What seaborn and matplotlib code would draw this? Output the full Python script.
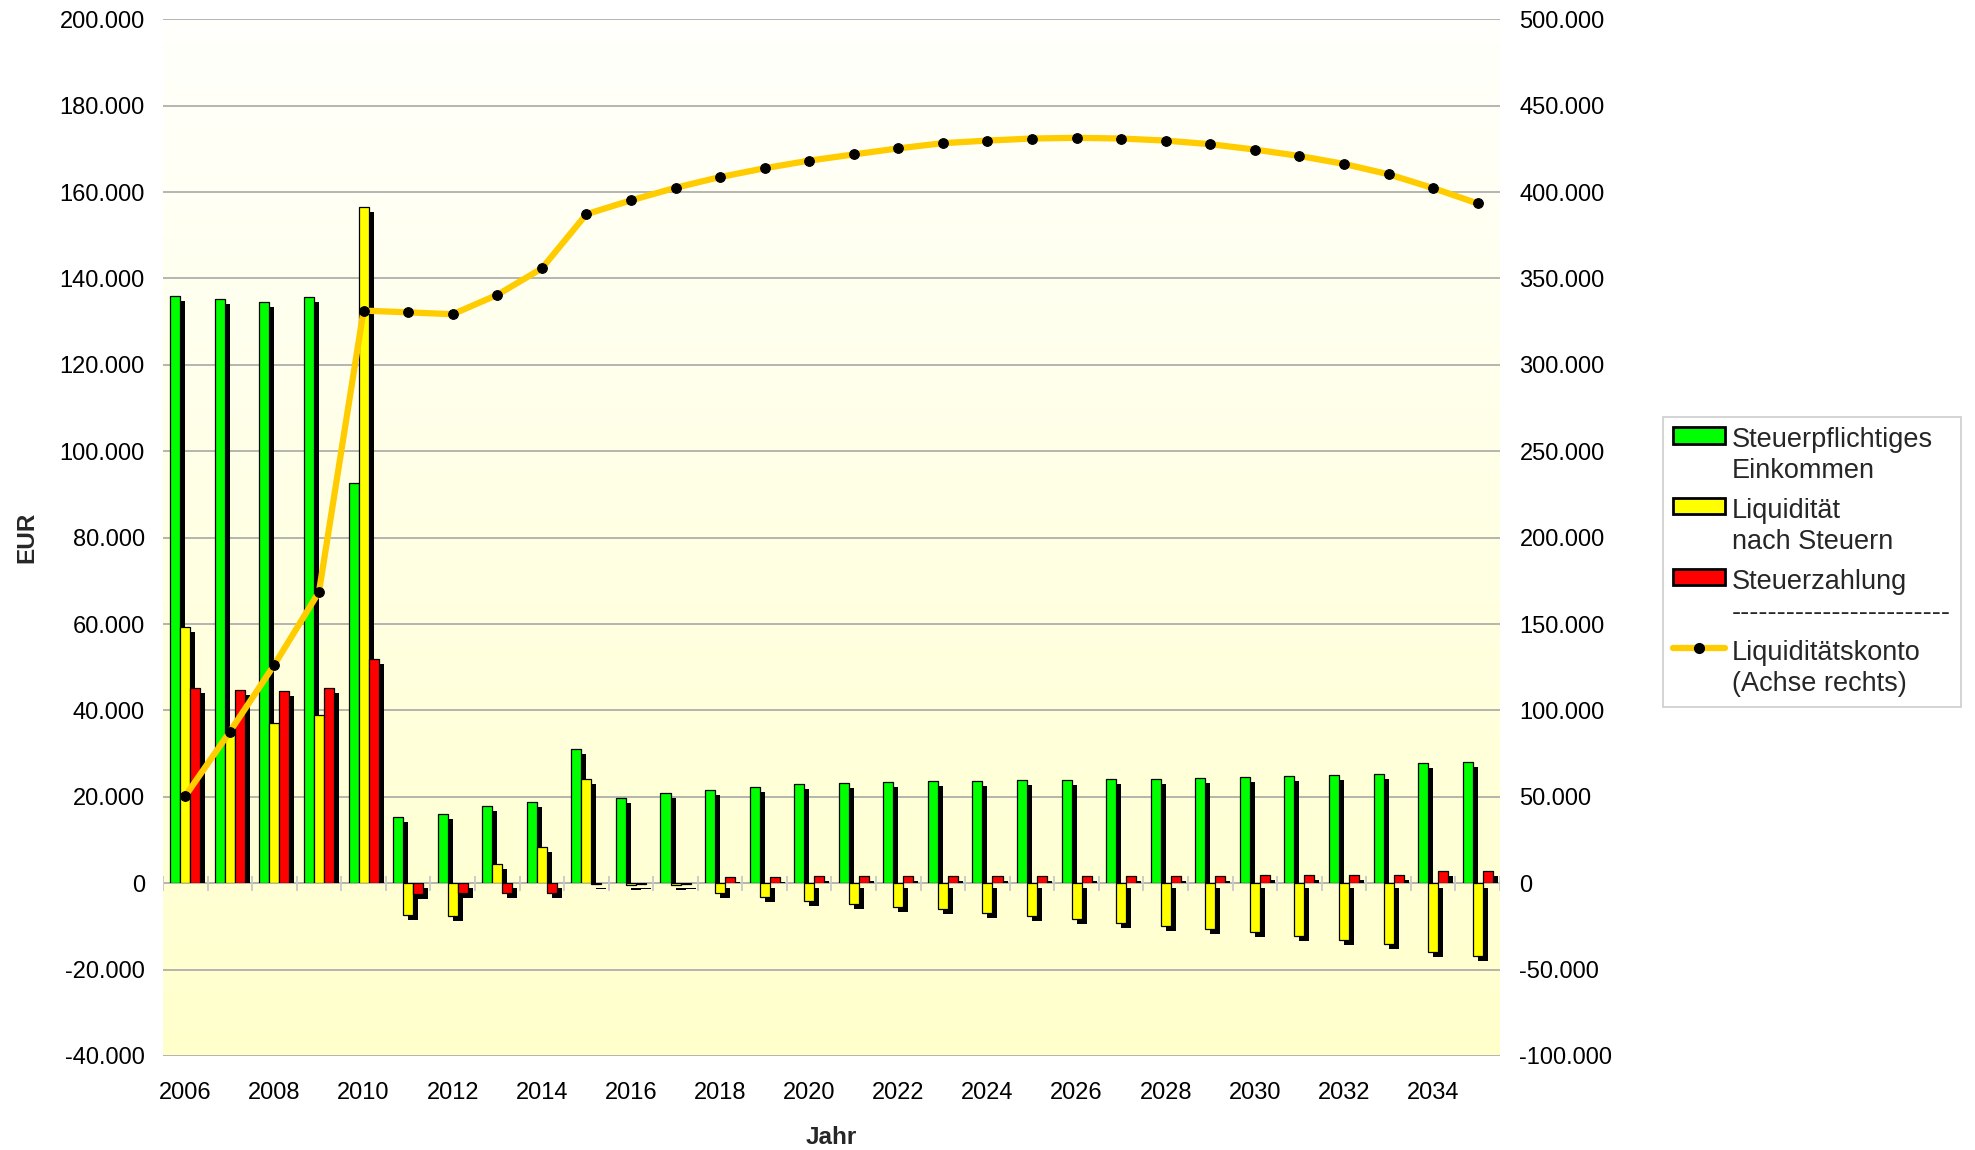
import numpy as np
import pandas as pd
import matplotlib
matplotlib.use("Agg")
import matplotlib.pyplot as plt
import matplotlib.patheffects as pe
from matplotlib.patches import Patch
from matplotlib.lines import Line2D
from matplotlib.ticker import FuncFormatter, MultipleLocator
from matplotlib.transforms import Bbox, TransformedBbox
import seaborn as sns

# ---------------- data ----------------
years = list(range(2006, 2036))
einkommen = [136000, 135300, 134600, 135800, 92600, 15400, 16000, 17900, 18700, 31000,
             19800, 20800, 21500, 22200, 23000, 23300, 23500, 23600, 23700, 23800,
             23900, 24100, 24200, 24400, 24500, 24900, 25000, 25200, 27800, 28000]
liquiditaet = [59200, 35000, 37100, 39000, 156500, -7300, -7500, 4400, 8400, 24100,
               -500, -500, -2300, -3100, -4100, -4800, -5400, -6000, -6900, -7700,
               -8300, -9200, -9900, -10700, -11400, -12300, -13200, -14000, -16000, -16800]
steuer = [45300, 44800, 44600, 45300, 52000, -2600, -2300, -2200, -2200, -150,
          -150, -200, 1400, 1500, 1600, 1600, 1600, 1700, 1600, 1600,
          1600, 1700, 1700, 1700, 1850, 1850, 1850, 1850, 2900, 2900]
konto = [50500, 87700, 126500, 168600, 331400, 330400, 329300, 340500, 355800, 387200,
         395200, 402500, 408700, 413800, 418200, 421800, 425300, 428300, 429800, 431000,
         431400, 431000, 429800, 427700, 424600, 420900, 416300, 410300, 402300, 393400]

series_names = ["Steuerpflichtiges Einkommen", "Liquidität nach Steuern", "Steuerzahlung"]
series_colors = ["#00FF00", "#FFFF00", "#FF0000"]
line_color = "#FFCC00"
legend_labels = ["Steuerpflichtiges\nEinkommen", "Liquidität\nnach Steuern",
                 "Steuerzahlung\n------------------------", "Liquiditätskonto\n(Achse rechts)"]
xtick_years = years[::2]
x_label = "Jahr"
y_label = "EUR"

# ---------------- style ----------------
sns.set_theme(style="white")
plt.rcParams['font.family'] = ['Liberation Sans', 'DejaVu Sans']

W, H = 1975, 1150
fig = plt.figure(figsize=(W / 100, H / 100), dpi=100)
fig.patch.set_facecolor("white")

left, right, top, bottom = 163, 1500, 19.3, 1056
rect = [left / W, 1 - bottom / H, (right - left) / W, (bottom - top) / H]

# gradient background of the plot area
bg = fig.add_axes(rect, zorder=-1)
grad = np.linspace(0, 1, 256).reshape(-1, 1)
c_top = np.array([255, 255, 252]) / 255
c_bot = np.array([255, 255, 204]) / 255
img = c_top[None, None, :] * (1 - grad[:, :, None]) + c_bot[None, None, :] * grad[:, :, None]
bg.imshow(img, aspect="auto", extent=[0, 1, 0, 1], origin="upper")
bg.axis("off")

ax = fig.add_axes(rect)
ax.patch.set_visible(False)

df = pd.DataFrame({
    "Jahr": years * 3,
    "Wert": einkommen + liquiditaet + steuer,
    "Reihe": [series_names[0]] * len(years) + [series_names[1]] * len(years) + [series_names[2]] * len(years),
})

sns.barplot(data=df, x="Jahr", y="Wert", hue="Reihe", hue_order=series_names,
            palette=series_colors, saturation=1, width=0.675, edgecolor="black",
            linewidth=0.9, errorbar=None, legend=False, ax=ax, zorder=3)

n = len(years)
ymin, ymax = -40000, 200000
ax.set_xlim(-0.5, n - 0.5)
ax.set_ylim(ymin, ymax)

shadow = [pe.SimplePatchShadow(offset=(3.6, -3.6), shadow_rgbFace="black", alpha=1.0), pe.Normal()]
pos_clip = TransformedBbox(Bbox.from_extents(-1, 0, n, ymax), ax.transData)
neg_clip = TransformedBbox(Bbox.from_extents(-1, ymin, n, 0), ax.transData)
for p in ax.patches:
    p.set_path_effects(shadow)
    p.set_clip_box(pos_clip if p.get_height() >= 0 else neg_clip)

ax.yaxis.set_major_locator(MultipleLocator(20000))
fmt = FuncFormatter(lambda v, _: f"{int(round(v)):,}".replace(",", "."))
ax.yaxis.set_major_formatter(fmt)
ax.yaxis.grid(True, color="#A8A8A8", linewidth=1.2)
ax.set_axisbelow(True)
for s in ax.spines.values():
    s.set_visible(False)

# small category separators on the zero line
ax.vlines(np.arange(n + 1) - 0.5, -1700, 1700, colors="#C8C8C8", linewidth=1.3, zorder=2)

ax.set_xticks(list(range(0, n, 2)))
ax.set_xticklabels([str(y) for y in xtick_years])
ax.tick_params(axis="x", length=0, pad=18.5, labelsize=17, colors="black")
ax.tick_params(axis="y", length=0, pad=13, labelsize=17, colors="black")
ax.set_xlabel(x_label, fontsize=17.5, fontweight="bold", labelpad=16)
ax.set_ylabel(y_label, fontsize=17.5, fontweight="bold", labelpad=15)

# secondary axis line
ax2 = ax.twinx()
ax2.patch.set_visible(False)
sns.lineplot(x=np.arange(n), y=konto, ax=ax2, color=line_color, linewidth=4.5,
             marker="o", markersize=7, markerfacecolor="black", markeredgecolor="black",
             zorder=5)
ax2.set_xlim(-0.5, n - 0.5)
ax2.set_ylim(-100000, 500000)
ax2.yaxis.set_major_locator(MultipleLocator(50000))
ax2.yaxis.set_major_formatter(fmt)
ax2.grid(False)
ax2.set_ylabel("")
ax2.tick_params(axis="y", length=0, pad=14, labelsize=17, colors="black")
for s in ax2.spines.values():
    s.set_visible(False)

handles = [Patch(facecolor=c, edgecolor="black", linewidth=2) for c in series_colors]
handles.append(Line2D([], [], color=line_color, linewidth=4.5, marker="o", markersize=7,
                      markerfacecolor="black", markeredgecolor="black"))
leg = fig.legend(handles, legend_labels, loc="upper left",
                 bbox_to_anchor=(1663 / W, 1 - 417 / H), frameon=True, fancybox=False,
                 edgecolor="#C0C0C0", fontsize=19.5, handlelength=1.9, handleheight=0.55,
                 labelspacing=0.5, borderpad=0.38, handletextpad=0.25, borderaxespad=0)
leg.get_frame().set_linewidth(1.2)
for t in leg.get_texts():
    t.set_linespacing(1.26)
# align the handles with the first line of each (two-line) label
try:
    for col in leg._legend_handle_box.get_children():
        for row in col.get_children():
            row.align = "top"
except Exception:
    pass

fig.savefig("out.png", dpi=100)
